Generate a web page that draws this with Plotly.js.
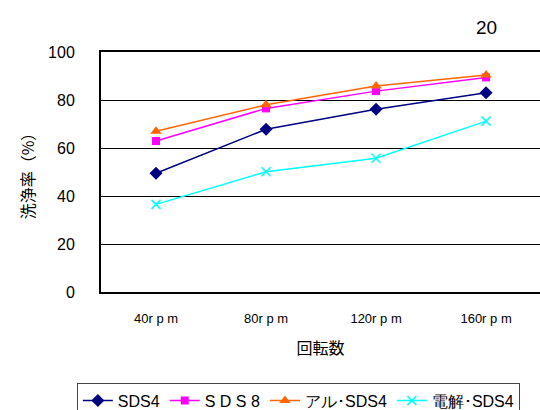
<!DOCTYPE html>
<html>
<head>
<meta charset="utf-8">
<script src="https://cdn.plot.ly/plotly-3.0.1.min.js"></script>
<style>
  html, body { margin: 0; padding: 0; background: #fff; }
  #chart { width: 540px; height: 410px; }
</style>
</head>
<body>
<div id="chart"></div>
<script>
// Rotation speed categories
const speeds = ["40r p m", "80r p m", "120r p m", "160r p m"];

// Cleaning rate (%) per condition
const sds4 = [49.5, 67.8, 76.1, 83.0];
const sds8 = [62.9, 76.5, 83.7, 89.4];
const alSds4 = [67.0, 78.0, 85.8, 90.4];
const elecSds4 = [36.5, 50.1, 55.7, 71.2];

const seriesNames = ["SDS4", "S D S 8", "アル･SDS4", "電解･SDS4"];

const narrow = "'Liberation Sans Narrow', 'Arial Narrow', 'Liberation Sans', Arial, sans-serif";
const jp = "'Noto Sans CJK JP', 'Noto Sans', sans-serif";

function series(name, y, color, symbol, size) {
  return {
    type: "scatter",
    mode: "lines+markers",
    name: name,
    x: speeds,
    y: y,
    line: { color: color, width: 1.5 },
    marker: {
      color: color,
      symbol: symbol,
      size: size,
      line: { color: color, width: symbol === "x-thin" ? 1.5 : 0 }
    }
  };
}

const data = [
  series(seriesNames[0], sds4, "#000080", "diamond", 10),
  series(seriesNames[1], sds8, "#ff00ff", "square", 8),
  series(seriesNames[2], alSds4, "#ff6600", "triangle-up", 10),
  series(seriesNames[3], elecSds4, "#00ffff", "x-thin", 9)
];

const layout = {
  width: 540,
  height: 410,
  margin: { l: 101, r: 0, t: 52, b: 118, autoexpand: false },
  paper_bgcolor: "#ffffff",
  plot_bgcolor: "#ffffff",
  showlegend: true,
  legend: {
    orientation: "h",
    x: -0.055,
    xanchor: "left",
    y: -0.378,
    yanchor: "top",
    bordercolor: "#444444",
    borderwidth: 1,
    font: { family: narrow, size: 16, color: "#000" },
    itemwidth: 30,
    tracegroupgap: 0
  },
  xaxis: {
    type: "category",
    range: [-0.5, 3.49],
    showgrid: false,
    zeroline: false,
    showline: true,
    linecolor: "#000",
    linewidth: 2,
    mirror: true,
    ticks: "",
    ticklabelstandoff: 13,
    tickfont: { family: narrow, size: 13, color: "#000" },
    title: {
      text: "回転数",
      font: { family: jp, size: 16, color: "#000" },
      standoff: 18
    },
    fixedrange: true
  },
  yaxis: {
    range: [0, 100],
    tickvals: [0, 20, 40, 60, 80, 100],
    showgrid: true,
    gridcolor: "#000",
    gridwidth: 1,
    zeroline: false,
    showline: true,
    linecolor: "#000",
    linewidth: 2,
    ticks: "",
    ticklabelstandoff: 21,
    tickfont: { family: "'Liberation Sans', Arial, sans-serif", size: 16, color: "#000" },
    title: {
      text: "洗浄率（%）",
      font: { family: jp, size: 16, color: "#000" },
      standoff: 9
    },
    fixedrange: true
  },
  annotations: [
    {
      text: "20",
      xref: "paper",
      yref: "paper",
      x: 0.879,
      y: 1.104,
      xanchor: "center",
      yanchor: "middle",
      showarrow: false,
      font: { family: "'Liberation Sans', Arial, sans-serif", size: 19, color: "#000" }
    }
  ]
};

Plotly.newPlot("chart", data, layout, { displayModeBar: false, staticPlot: true });
</script>
</body>
</html>
